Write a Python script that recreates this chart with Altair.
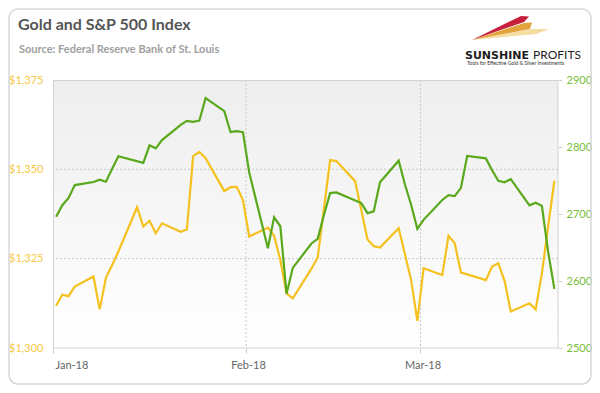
import altair as alt
import pandas as pd

# ---------------- data ----------------
gold_dates = [
    "2018-01-02", "2018-01-03", "2018-01-04", "2018-01-05",
    "2018-01-08", "2018-01-09", "2018-01-10", "2018-01-11", "2018-01-12",
    "2018-01-15", "2018-01-16", "2018-01-17", "2018-01-18", "2018-01-19",
    "2018-01-22", "2018-01-23", "2018-01-24", "2018-01-25", "2018-01-26",
    "2018-01-29", "2018-01-30", "2018-01-31",
    "2018-02-01", "2018-02-02",
    "2018-02-05", "2018-02-06", "2018-02-07", "2018-02-08", "2018-02-09",
    "2018-02-12", "2018-02-13", "2018-02-14", "2018-02-15", "2018-02-16",
    "2018-02-19", "2018-02-20", "2018-02-21", "2018-02-22", "2018-02-23",
    "2018-02-26", "2018-02-27", "2018-02-28",
    "2018-03-01", "2018-03-02",
    "2018-03-05", "2018-03-06", "2018-03-07", "2018-03-08", "2018-03-09",
    "2018-03-12", "2018-03-13", "2018-03-14", "2018-03-15", "2018-03-16",
    "2018-03-19", "2018-03-20", "2018-03-21", "2018-03-22", "2018-03-23",
]
gold_values = [
    1311.8, 1314.9, 1314.5, 1317.2,
    1320.0, 1310.8, 1319.7, 1323.2, 1327.0,
    1339.4, 1334.0, 1335.6, 1332.1, 1334.9,
    1332.5, 1333.2, 1353.7, 1354.9, 1353.1,
    1343.9, 1345.0, 1345.1,
    1341.4, 1331.2,
    1333.7, 1331.4, 1324.6, 1315.3, 1313.9,
    1322.2, 1325.3, 1339.0, 1352.6, 1352.3,
    1346.7, 1338.6, 1330.4, 1328.5, 1328.1,
    1333.5, 1326.3, 1319.0,
    1307.6, 1322.3,
    1320.4, 1331.4, 1329.3, 1321.1, 1320.6,
    1319.0, 1322.8, 1323.7, 1318.8, 1310.2,
    1312.5, 1310.8, 1320.9, 1334.0, 1346.8,
]

sp_dates = [
    "2018-01-02", "2018-01-03", "2018-01-04", "2018-01-05",
    "2018-01-08", "2018-01-09", "2018-01-10", "2018-01-11", "2018-01-12",
    "2018-01-16", "2018-01-17", "2018-01-18", "2018-01-19",
    "2018-01-22", "2018-01-23", "2018-01-24", "2018-01-25", "2018-01-26",
    "2018-01-29", "2018-01-30", "2018-01-31",
    "2018-02-01", "2018-02-02",
    "2018-02-05", "2018-02-06", "2018-02-07", "2018-02-08", "2018-02-09",
    "2018-02-12", "2018-02-13", "2018-02-14", "2018-02-15", "2018-02-16",
    "2018-02-20", "2018-02-21", "2018-02-22", "2018-02-23",
    "2018-02-26", "2018-02-27", "2018-02-28",
    "2018-03-01", "2018-03-02",
    "2018-03-05", "2018-03-06", "2018-03-07", "2018-03-08", "2018-03-09",
    "2018-03-12", "2018-03-13", "2018-03-14", "2018-03-15", "2018-03-16",
    "2018-03-19", "2018-03-20", "2018-03-21", "2018-03-22", "2018-03-23",
]
sp_values = [
    2695.8, 2713.1, 2724.0, 2743.2,
    2747.7, 2751.3, 2748.2, 2767.6, 2786.2,
    2776.4, 2802.6, 2798.0, 2810.3,
    2833.0, 2839.1, 2837.5, 2839.3, 2872.9,
    2853.5, 2822.4, 2823.8,
    2822.0, 2762.1,
    2648.9, 2695.1, 2681.7, 2581.0, 2619.6,
    2656.0, 2662.9, 2698.6, 2731.2, 2732.2,
    2716.3, 2701.3, 2704.0, 2747.3,
    2779.6, 2744.3, 2713.8,
    2677.7, 2691.3,
    2720.9, 2728.1, 2726.8, 2739.0, 2786.6,
    2783.0, 2765.3, 2749.5, 2747.3, 2752.0,
    2712.9, 2716.9, 2711.9, 2643.7, 2588.3,
]

gold_ticks = [1300, 1325, 1350, 1375]
sp_ticks = [2500, 2600, 2700, 2800, 2900]
gold_grid = [1325, 1350]
month_grid = ["2018-02-01T12:00:00", "2018-03-01T12:00:00"]

title_text = "Gold and S&P 500 Index"
subtitle_text = "Source: Federal Reserve Bank of St. Louis"

# ---------------- styling ----------------
W, H = 505, 268
GOLD = "#f4c11f"
GREEN = "#5aa81c"
FONT = "Lato"

gold_df = pd.DataFrame({"date": [d + "T00:00:00" for d in gold_dates], "gold": gold_values})
sp_df = pd.DataFrame({"date": [d + "T00:00:00" for d in sp_dates], "sp": sp_values})
one = pd.DataFrame({"a": [0]})

x_scale = alt.Scale(
    type="time",
    domain=[alt.DateTime(year=2018, month=1, date=1, hours=12),
            alt.DateTime(year=2018, month=3, date=23, hours=14)],
    nice=False,
)
gold_scale = alt.Scale(domain=[1300, 1375], nice=False, zero=False)
sp_scale = alt.Scale(domain=[2500, 2900], nice=False, zero=False)

x_axis = alt.Axis(
    values=[alt.DateTime(year=2018, month=1, date=1, hours=12),
            alt.DateTime(year=2018, month=2, date=1, hours=12),
            alt.DateTime(year=2018, month=3, date=1, hours=12)],
    format="%b-%y", labelColor="#666666", labelFont=FONT, labelFontSize=11,
    tickColor="#cccccc", tickSize=5, labelPadding=6, domain=False, grid=False,
    labelOffset=2, title=None,
)
gold_axis = alt.Axis(
    orient="left", values=gold_ticks, format="$,.0f",
    labelColor="#f6c945", labelFont=FONT, labelFontSize=11,
    ticks=False, domain=False, grid=False, labelPadding=10, title=None,
)

# background gradient of plot area
bg = alt.Chart(one).mark_rect(
    color=alt.LinearGradient(
        gradient="linear",
        stops=[alt.GradientStop(color="#eeeeee", offset=0),
               alt.GradientStop(color="#ffffff", offset=1)],
        x1=0, x2=0, y1=0, y2=1,
    )
).encode(x=alt.value(0), x2=alt.value(W), y=alt.value(0), y2=alt.value(H))

hgrid = alt.Chart(pd.DataFrame({"g": gold_grid})).mark_rule(
    color="#c8c8c8", strokeDash=[2, 2], strokeWidth=1
).encode(y=alt.Y("g:Q", scale=gold_scale, axis=gold_axis))

vgrid = alt.Chart(pd.DataFrame({"m": month_grid})).mark_rule(
    color="#c8c8c8", strokeDash=[2, 2], strokeWidth=1
).encode(x=alt.X("m:T", scale=x_scale, axis=x_axis))

gold_line = alt.Chart(gold_df).mark_line(color=GOLD, strokeWidth=2.2).encode(
    x=alt.X("date:T", scale=x_scale, axis=x_axis),
    y=alt.Y("gold:Q", scale=gold_scale, axis=gold_axis),
)

gold_layer = alt.layer(hgrid, vgrid, gold_line)

sp_line = alt.Chart(sp_df).mark_line(color=GREEN, strokeWidth=2.2).encode(
    x=alt.X("date:T", scale=x_scale, axis=x_axis),
    y=alt.Y("sp:Q", scale=sp_scale,
            axis=alt.Axis(orient="right", values=sp_ticks, format="d",
                          labelColor="#78bd3a", labelFont=FONT, labelFontSize=11,
                          tickColor="#cccccc", tickSize=4, labelPadding=4,
                          domain=False, grid=False, title=None)),
)

def rule(x, x2, y, y2):
    return alt.Chart(one).mark_rule(color="#d3d3d3", strokeWidth=1).encode(
        x=alt.value(x), x2=alt.value(x2), y=alt.value(y), y2=alt.value(y2))

borders = alt.layer(
    rule(0, W, 0.5, 0.5), rule(0, W, H, H), rule(0.5, 0.5, 0, H), rule(W, W, 0, H)
)

def txt(text, x, y, size, color, weight="normal", font=FONT):
    return alt.Chart(one).mark_text(
        align="left", baseline="alphabetic", font=font, fontSize=size,
        fontWeight=weight, color=color,
    ).encode(x=alt.value(x), y=alt.value(y), text=alt.value(text))

titles = alt.layer(
    txt(title_text, -35, -50, 16, "#555555", "bold"),
    txt(subtitle_text, -34, -27, 11, "#a0a0a0", "bold"),
)

# logo (Sunshine Profits)
def swoosh(path, color, opacity=1.0):
    return alt.Chart(one).mark_point(
        shape=path, filled=True, color=color, opacity=opacity, size=3600, strokeWidth=0
    ).encode(x=alt.value(452), y=alt.value(-50))

logo = alt.layer(
    swoosh("M-1.1,0.333 L0.9,-0.033 L1.467,-0.033 L1.033,0.133 Z", "#f2d38a", 0.8),
    swoosh("M-1.1,0.333 L0.633,-0.233 L0.9,-0.25 L0.833,-0.033 Z", "#e3a33c"),
    swoosh("M-1.1,0.333 L0.533,-0.467 L0.8,-0.45 L0.633,-0.267 Z", "#c6203c"),
    txt("SUNSHINE", 412, -21.5, 11, "#1e1e1e", "bold", "DejaVu Sans"),
    txt("PROFITS", 480, -21.5, 12, "#1e1e1e", "normal"),
    txt("Tools for Effective Gold & Silver Investments", 414, -15, 5, "#333333"),
)

frame = alt.Chart(one).mark_rect(
    fillOpacity=0, stroke="#d6d6d6", strokeWidth=1.5, cornerRadius=9
).encode(x=alt.value(-44), x2=alt.value(538), y=alt.value(-71), y2=alt.value(304))

chart = alt.layer(
    bg, gold_layer, sp_line, borders, titles, logo, frame
).resolve_scale(y="independent").properties(
    width=W, height=H,
    padding={"left": 45, "top": 72, "right": 34, "bottom": 37},
    autosize=alt.AutoSizeParams(type="none"),
).configure_view(stroke="transparent")

chart.save("out.html", embed_options={"renderer": "svg", "actions": False})
